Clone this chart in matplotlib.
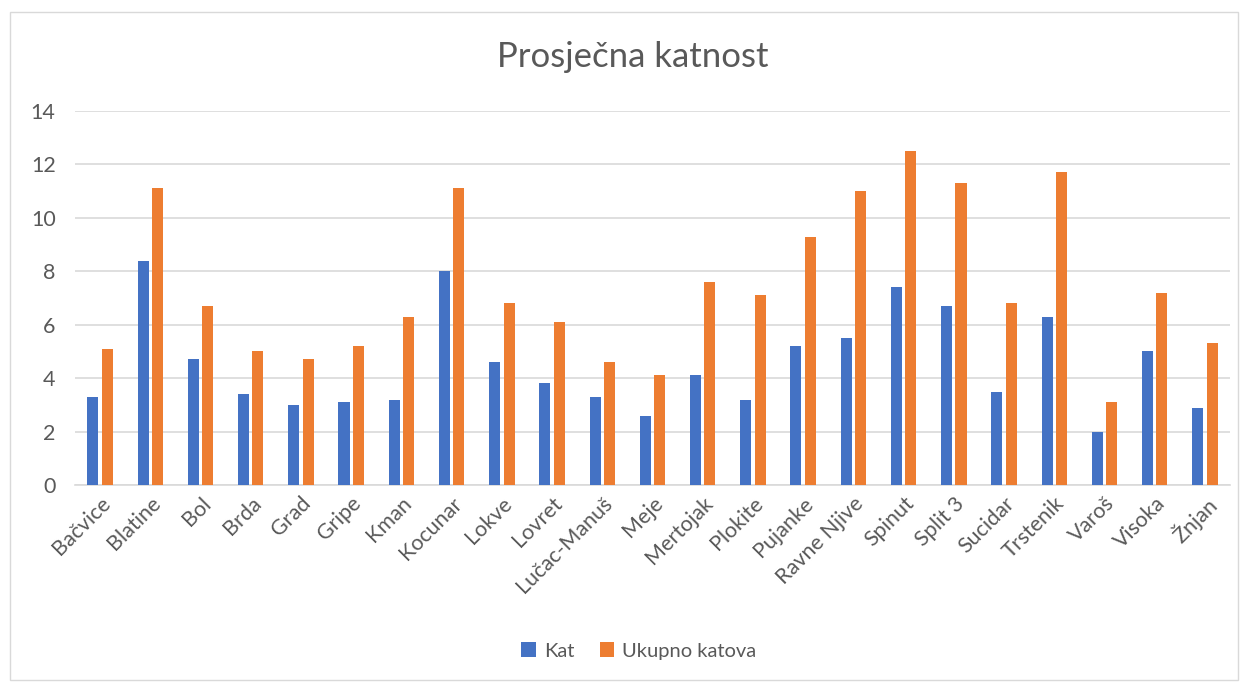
import matplotlib.pyplot as plt
import numpy as np
from matplotlib.patches import Rectangle

# data
naselja = ["Bačvice", "Blatine", "Bol", "Brda", "Grad", "Gripe", "Kman", "Kocunar",
           "Lokve", "Lovret", "Lučac-Manuš", "Meje", "Mertojak", "Plokite", "Pujanke",
           "Ravne Njive", "Spinut", "Split 3", "Sucidar", "Trstenik", "Varoš", "Visoka", "Žnjan"]
kat = [3.3, 8.4, 4.7, 3.4, 3.0, 3.1, 3.2, 8.0, 4.6, 3.8, 3.3, 2.6, 4.1, 3.2, 5.2,
       5.5, 7.4, 6.7, 3.5, 6.3, 2.0, 5.0, 2.9]
ukupno_katova = [5.1, 11.1, 6.7, 5.0, 4.7, 5.2, 6.3, 11.1, 6.8, 6.1, 4.6, 4.1, 7.6, 7.1, 9.3,
                 11.0, 12.5, 11.3, 6.8, 11.7, 3.1, 7.2, 5.3]
y_ticks = [0, 2, 4, 6, 8, 10, 12, 14]

plt.rcParams["font.family"] = ["Lato", "DejaVu Sans"]
text_col = "#595959"
grid_col = "#d9d9d9"

fig = plt.figure(figsize=(12.48, 6.83), dpi=100)
ax = fig.add_axes([75 / 1248, 1 - 485 / 683, 1155 / 1248, 374 / 683])

# outer chart border
fig.patches.append(Rectangle((10 / 1248, 3 / 683), 1228 / 1248, 668 / 683,
                             transform=fig.transFigure, fill=False,
                             edgecolor=grid_col, linewidth=1))

x = np.arange(len(naselja))
w = 0.22
ax.bar(x - 0.143, kat, w, color="#4472c4", label="Kat", zorder=3)
ax.bar(x + 0.143, ukupno_katova, w, color="#ed7d31", label="Ukupno katova", zorder=3)

ax.set_xlim(-0.5, len(naselja) - 0.5)
ax.set_ylim(0, 14)
ax.set_yticks(y_ticks)
ax.set_yticklabels([str(t) for t in y_ticks], fontsize=15.5, color=text_col)
ax.yaxis.grid(True, color=grid_col, linewidth=1.2, zorder=0)
ax.tick_params(axis="y", length=0, pad=14)
ax.tick_params(axis="x", length=0, pad=6)
ax.set_xticks(x)
ax.set_xticklabels(naselja, rotation=45, ha="right", rotation_mode="anchor",
                   fontsize=15.5, color=text_col)
for side in ["top", "right", "left"]:
    ax.spines[side].set_visible(False)
ax.spines["bottom"].set_color(grid_col)
ax.spines["bottom"].set_linewidth(1.2)

fig.text(0.507, 1 - 57 / 683, "Prosječna katnost", ha="center", va="center",
         fontsize=25, color=text_col)

fig.legend(loc="center", bbox_to_anchor=(0.512, 1 - 651 / 683), ncol=2, frameon=False,
           fontsize=14.5, labelcolor=text_col, handlelength=0.7, handleheight=0.7,
           handletextpad=0.4, columnspacing=1.3)

fig.savefig("out.png", dpi=100)
